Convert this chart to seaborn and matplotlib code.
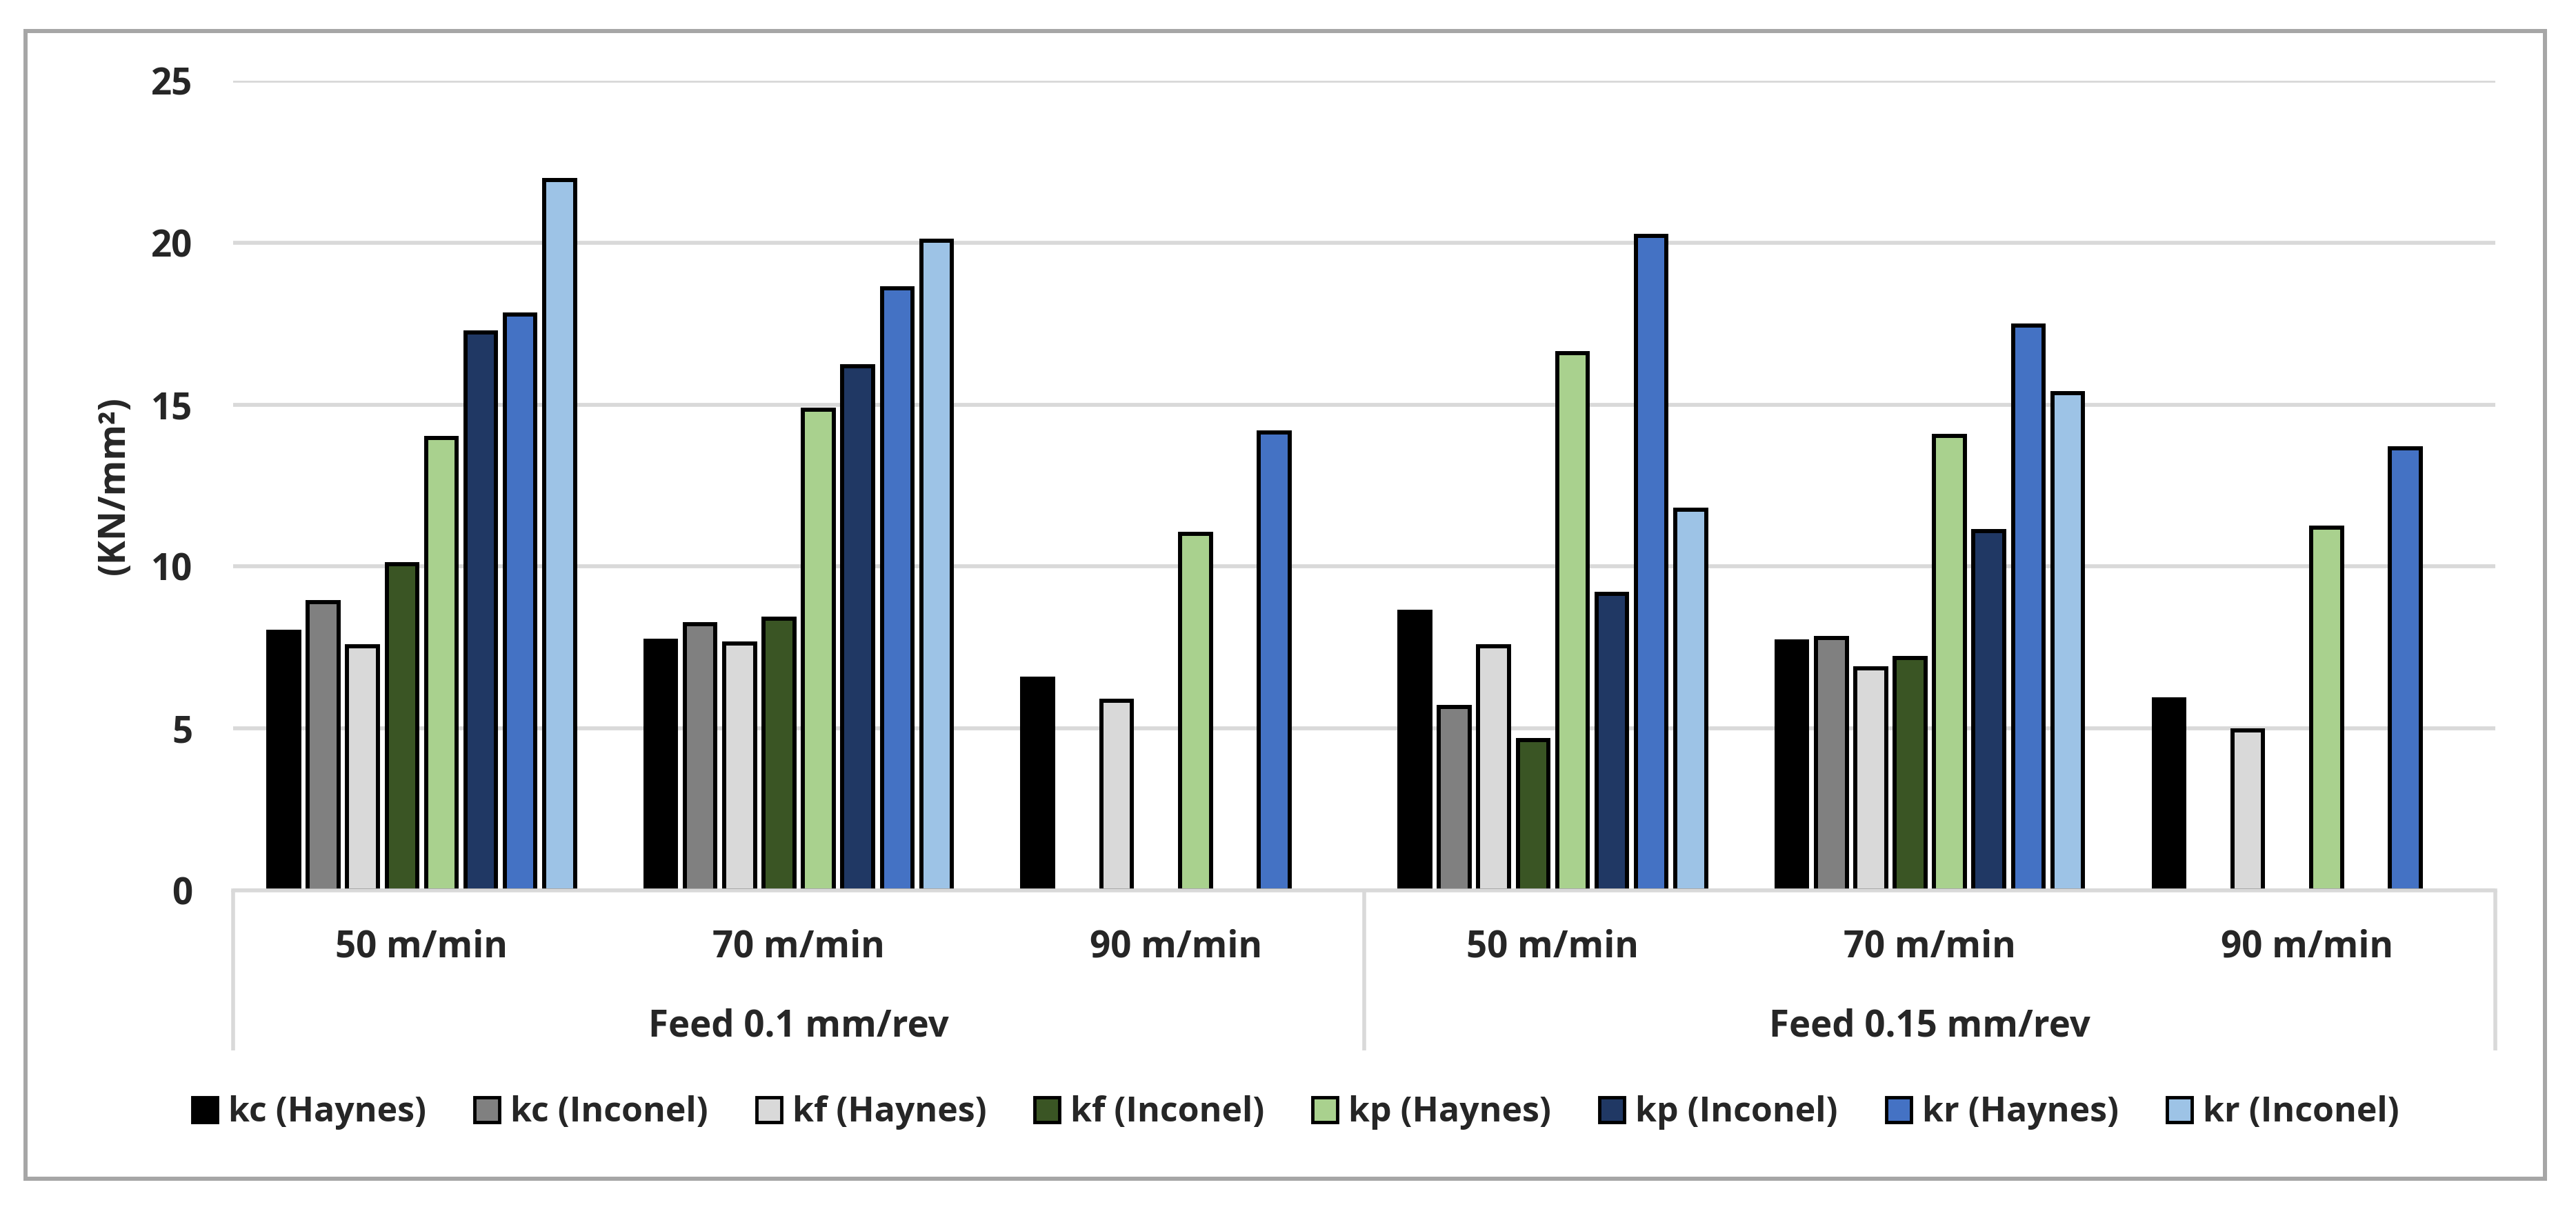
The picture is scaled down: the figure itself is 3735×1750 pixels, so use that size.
import numpy as np
import pandas as pd
import seaborn as sns
import matplotlib.pyplot as plt
from matplotlib.patches import Patch, Rectangle

nan = np.nan

# x categories: feed 0.1 (50, 70, 90 m/min) then feed 0.15 (50, 70, 90 m/min)
speeds = ["50 m/min", "70 m/min", "90 m/min", "50 m/min", "70 m/min", "90 m/min"]
feeds = ["Feed 0.1 mm/rev", "Feed 0.15 mm/rev"]
series = ["kc (Haynes)", "kc (Inconel)", "kf (Haynes)", "kf (Inconel)",
          "kp (Haynes)", "kp (Inconel)", "kr (Haynes)", "kr (Inconel)"]
colors = ["#000000", "#808080", "#D9D9D9", "#3A5524",
          "#A9D18E", "#203864", "#4472C4", "#9DC3E6"]

kc_haynes = [7.98, 7.70, 6.53, 8.60, 7.69, 5.89]
kc_inconel = [8.90, 8.22, nan, 5.67, 7.80, nan]
kf_haynes = [7.54, 7.62, 5.86, 7.54, 6.86, 4.93]
kf_inconel = [10.08, 8.39, nan, 4.64, 7.17, nan]
kp_haynes = [13.96, 14.84, 11.02, 16.59, 14.04, 11.21]
kp_inconel = [17.23, 16.19, nan, 9.15, 11.10, nan]
kr_haynes = [17.78, 18.59, 14.13, 20.21, 17.45, 13.65]
kr_inconel = [21.93, 20.06, nan, 11.76, 15.36, nan]

values = [kc_haynes, kc_inconel, kf_haynes, kf_inconel,
          kp_haynes, kp_inconel, kr_haynes, kr_inconel]

cond = [f"{i}" for i in range(len(speeds))]
rows = []
for name, vals in zip(series, values):
    for c, v in zip(cond, vals):
        rows.append({"cond": c, "series": name, "value": v})
df = pd.DataFrame(rows)

sns.set_style("white")
plt.rcParams["font.family"] = ["Open Sans", "DejaVu Sans"]
plt.rcParams["font.weight"] = "bold"
FS = 38

fig = plt.figure(figsize=(37.35, 17.5), dpi=100)
ax = fig.add_axes([0.0905, 0.2623, 0.8782, 0.6708])

sns.barplot(data=df, x="cond", y="value", hue="series", order=cond,
            hue_order=series, palette=colors, width=0.836, gap=0.22,
            edgecolor="black", linewidth=4.3, saturation=1, ax=ax, legend=False)

ax.set_xlim(-0.5, 5.5)
ax.set_ylim(0, 25)
ax.set_yticks([0, 5, 10, 15, 20, 25])
ax.yaxis.grid(True, color="#D9D9D9", linewidth=4.1)
ax.set_axisbelow(True)
for s in ["top", "right", "left"]:
    ax.spines[s].set_visible(False)
ax.spines["bottom"].set_color("#D9D9D9")
ax.spines["bottom"].set_linewidth(4)
ax.tick_params(axis="y", length=0, pad=42, labelsize=FS)
ax.tick_params(axis="x", length=0, labelbottom=False)
for t in ax.get_yticklabels():
    t.set_fontweight("bold")
ax.set_xlabel("")
ax.set_ylabel("")

# two-level category axis
trans = ax.get_xaxis_transform()
for i, sp in enumerate(speeds):
    ax.text(i, -0.0818, sp, transform=trans, ha="center", va="baseline",
            fontsize=FS, fontweight="bold")
for j, fd in enumerate(feeds):
    ax.text(1 + 3 * j, -0.1806, fd, transform=trans, ha="center", va="baseline",
            fontsize=FS, fontweight="bold")
for xs in [-0.5, 2.5, 5.5]:
    ax.plot([xs, xs], [0, -0.1976], transform=trans, color="#D9D9D9",
            linewidth=4, clip_on=False, solid_capstyle="butt")

fig.text(0.0444, 0.5977, "(KN/mm²)", rotation=90, ha="center", va="center",
         fontsize=FS, fontweight="bold")

handles = [Patch(facecolor=c, edgecolor="black", linewidth=3.5, label=s)
           for c, s in zip(colors, series)]
fig.legend(handles=handles, loc="center", bbox_to_anchor=(0.503, 0.078), ncol=8,
           frameon=False, fontsize=36, handlelength=0.72, handleheight=0.72,
           handletextpad=0.32, columnspacing=1.4, borderpad=0)

fig.patches.append(Rectangle((0.0099, 0.0234), 0.978, 0.9509, transform=fig.transFigure,
                             fill=False, edgecolor="#A6A6A6", linewidth=4.3))

fig.savefig("out.png", dpi=100, facecolor="white")
